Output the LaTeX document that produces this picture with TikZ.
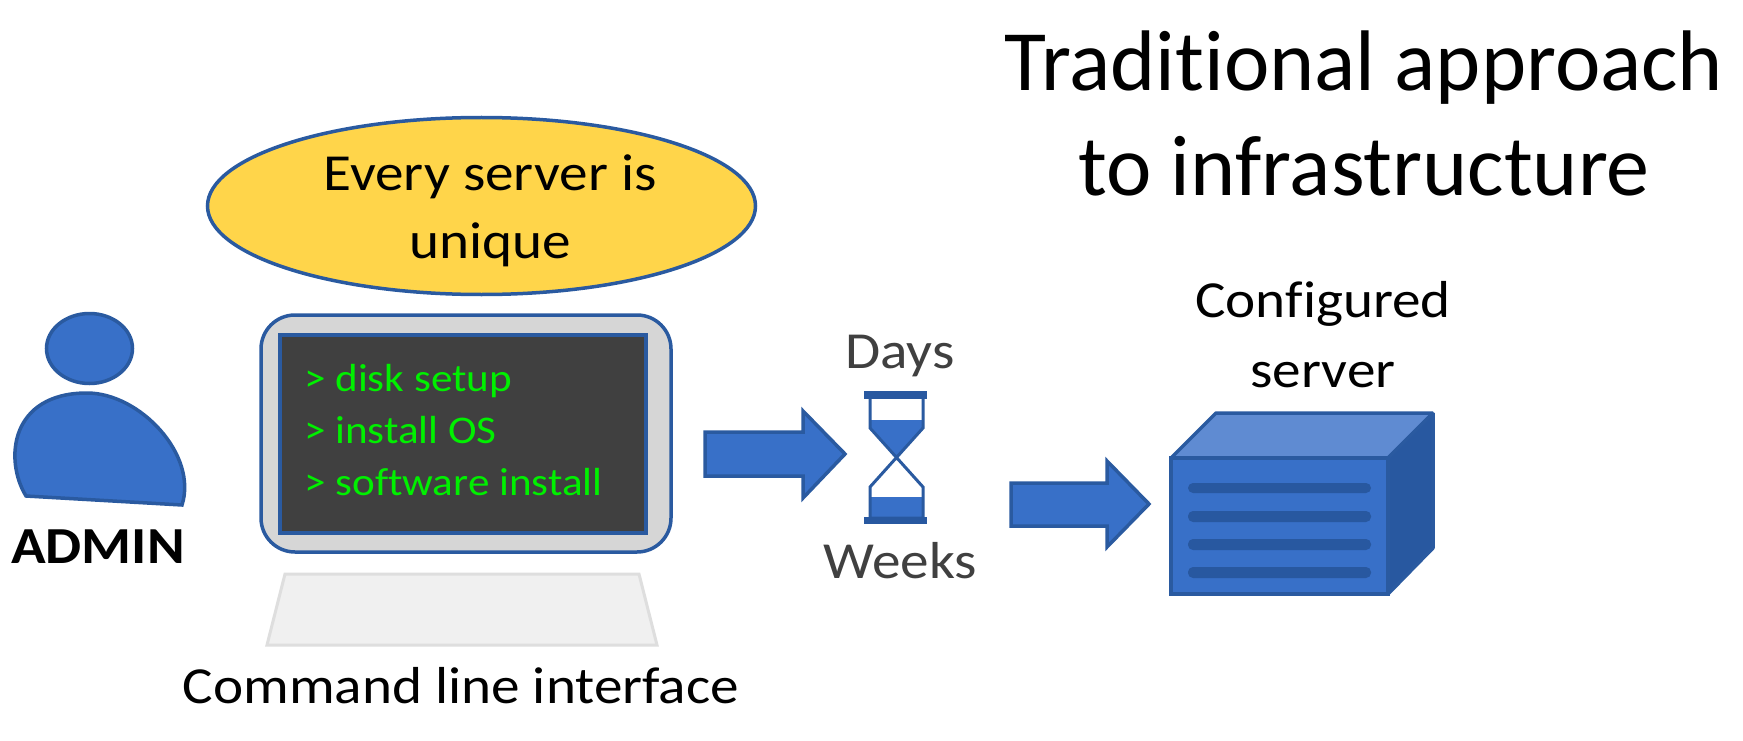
\documentclass[tikz,border=0pt]{standalone}
\usepackage{fontspec}
\setmainfont[Ligatures=NoCommon]{Carlito}
\newfontfamily\wide[FakeStretch=1.1,Ligatures=NoCommon]{Carlito}
\definecolor{blueFill}{HTML}{3870C8}
\definecolor{blueLine}{HTML}{2A5AA0}
\definecolor{blueDark}{HTML}{2858A0}
\definecolor{blueTop}{HTML}{5F8BD2}
\definecolor{goldFill}{HTML}{FFD54A}
\definecolor{greyRim}{HTML}{D6D6D6}
\definecolor{screenBg}{HTML}{404040}
\definecolor{termGreen}{HTML}{00F000}
\definecolor{greyText}{HTML}{404040}
\tikzset{
  x=1pt,y=-1pt,
  blue shape/.style={fill=blueFill,draw=blueLine,line width=3.5pt,line join=miter},
  lbl/.style={inner sep=0pt,anchor=base,align=center},
  biglbl/.style={lbl,font=\wide\fontsize{52}{52}\selectfont},
  titlelbl/.style={lbl,font=\fontsize{86}{86}\selectfont},
  termtxt/.style={inner sep=0pt,anchor=base west,text=termGreen,font=\wide\fontsize{39.2}{39.2}\selectfont},
  stripe/.style={fill=blueDark,draw=none,rounded corners=5pt},
}
\begin{document}
\begin{tikzpicture}
\useasboundingbox (0,0) rectangle (1743,741);
\fill[white] (0,0) rectangle (1743,741);
% title
\node[titlelbl] (title1) at (1364,91) {Traditional approach};
\node[titlelbl] (title2) at (1364,195) {to infrastructure};
% bubble
\draw[fill=goldFill,draw=blueLine,line width=3.5pt] (481.5,206) ellipse [x radius=274,y radius=88.5];
\node[biglbl] (b1) at (490,190) {Every server is};
\node[biglbl] (b2) at (490,258) {unique};
% admin
\draw[blue shape] (89.5,348.5) ellipse [x radius=43,y radius=35];
\draw[blue shape] (26,496) .. controls (4,460) and (10,393) .. (87,393) .. controls (140,393) and (198,455) .. (182,505) -- cycle;
\node[lbl,font=\wide\bfseries\fontsize{52}{52}\selectfont] (admin) at (98,563) {ADMIN};
% monitor
\draw[fill=greyRim,draw=blueLine,line width=3.5pt,rounded corners=34pt] (261,315) rectangle (671,552);
\draw[fill=screenBg,draw=blueLine,line width=4pt] (280,335) rectangle (646,533);
\node[termtxt] (t1) at (304,391) {> disk setup};
\node[termtxt] (t2) at (304,443) {> install OS};
\node[termtxt] (t3) at (304,495) {> software install};
% keyboard
\draw[fill=black!6,draw=black!13,line width=3pt] (285,574) -- (639,574) -- (657,645) -- (267,645) -- cycle;
\node[biglbl] (cli) at (461,703) {Command line interface};
% arrow 1
\draw[blue shape] (705,432) -- (803,432) -- (803,411) -- (845,454) -- (803,498) -- (803,476) -- (705,476) -- cycle;
% hourglass
\node[biglbl,text=greyText] (days) at (900,368) {Days};
\node[biglbl,text=greyText] (weeks) at (900,578) {Weeks};
\fill[blueFill] (870,420) -- (923,420) -- (923,428) -- (896,457) -- (870,428) -- cycle;
\fill[blueFill] (870,497) rectangle (923,518);
\draw[blueLine,line width=3pt] (870,396) -- (870,428) -- (923,487) -- (923,518) -- (870,518) -- (870,487) -- (923,428) -- (923,396);
\fill[blueDark] (864,391) rectangle (927,399);
\fill[blueDark] (864,517) rectangle (927,524);
% arrow 2
\draw[blue shape] (1011,483) -- (1107,483) -- (1107,461) -- (1149,504) -- (1107,547) -- (1107,526) -- (1011,526) -- cycle;
% server
\draw[fill=blueTop,draw=blueLine,line width=3.5pt,line join=bevel] (1171,458) -- (1216,413) -- (1433,413) -- (1388,458) -- cycle;
\draw[fill=blueDark,draw=blueLine,line width=3.5pt,line join=bevel] (1388,458) -- (1433,413) -- (1433,548) -- (1388,594) -- cycle;
\draw[blue shape] (1171,458) rectangle (1388,594);
\fill[stripe] (1188,483) rectangle (1371,493);
\fill[stripe] (1188,511) rectangle (1371,522);
\fill[stripe] (1188,539) rectangle (1371,550);
\fill[stripe] (1188,567) rectangle (1371,578);
\node[biglbl] (cfg1) at (1323,317) {Configured};
\node[biglbl] (cfg2) at (1323,387) {server};
\end{tikzpicture}
\end{document}
